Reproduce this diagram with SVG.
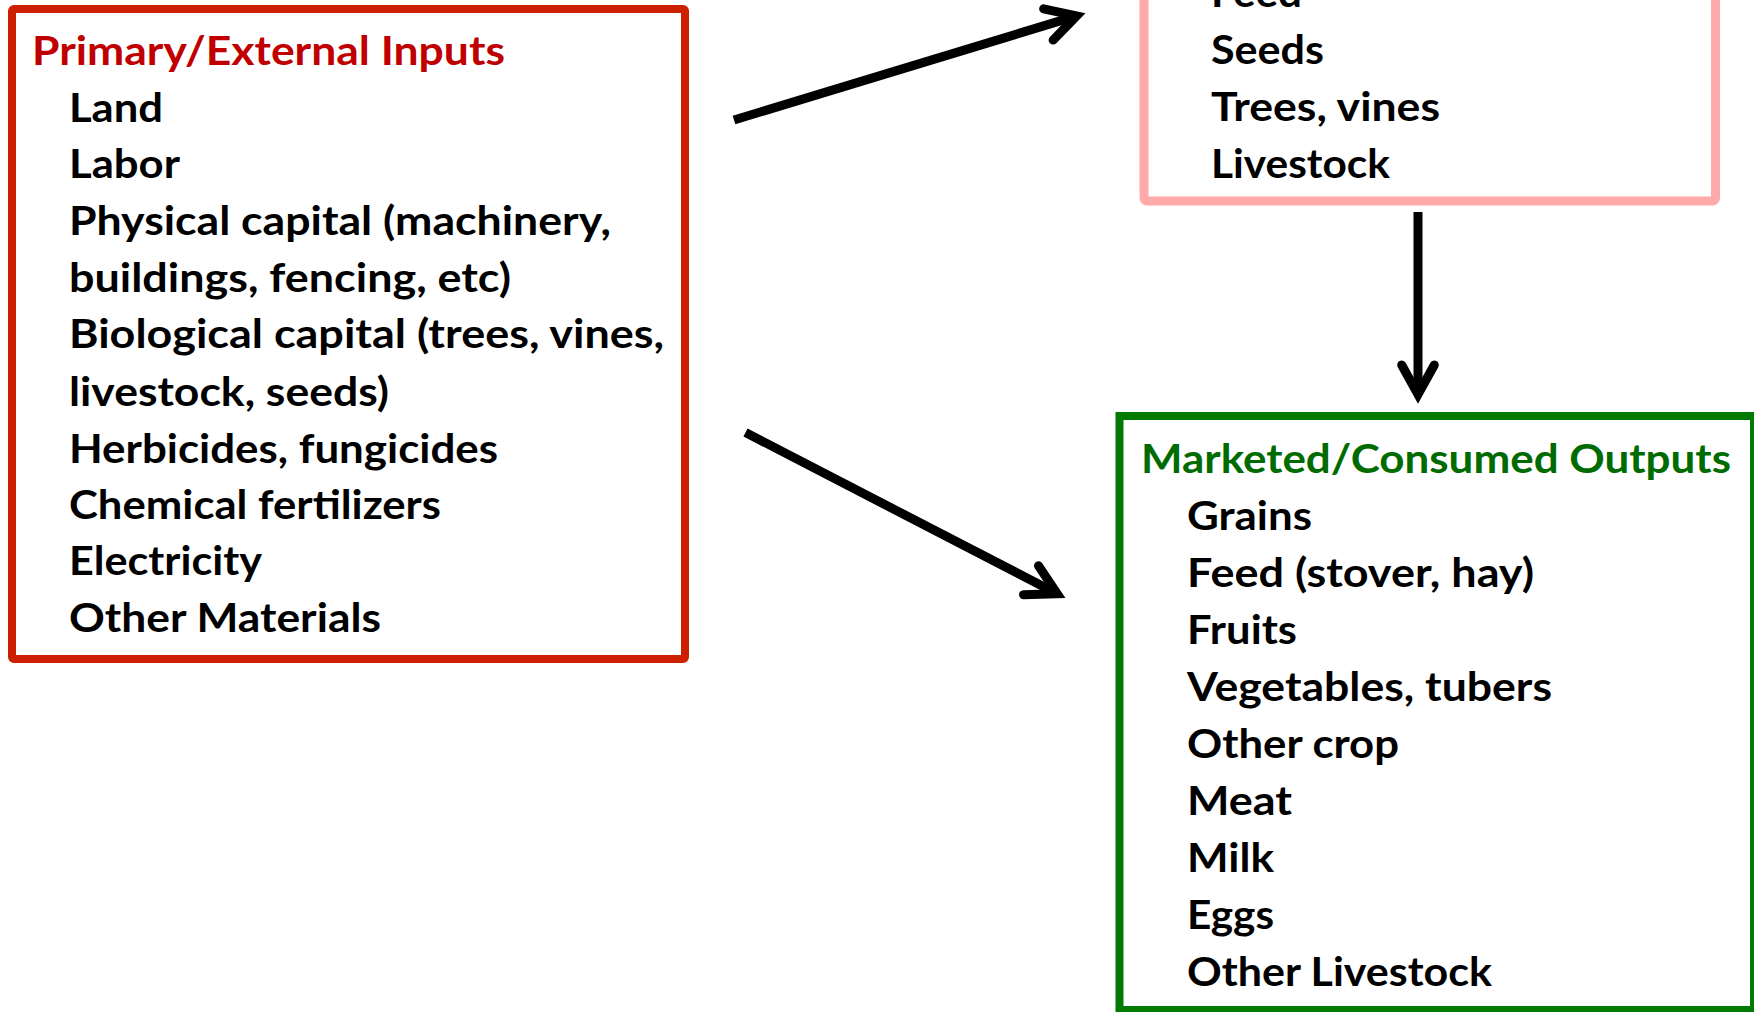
<svg xmlns="http://www.w3.org/2000/svg" width="1754" height="1012" viewBox="0 0 1754 1012">
<style>
  .t { font-family: Lato, "Open Sans", "Liberation Sans", sans-serif; font-weight: 700; font-size: 40px; fill: #000000; }
  .red-title { fill: #C00000; }
  .green-title { fill: #006B00; }
  .box { fill: #FFFFFF; }
  .red-box { stroke: #CD2000; stroke-width: 8; }
  .pink-box { stroke: #FFAAAA; stroke-width: 9; }
  .green-box { stroke: #007A00; stroke-width: 8; }
  .conn { stroke: #000000; stroke-width: 9; fill: none; stroke-linecap: butt; }
</style>
<defs>
  <marker id="chev" markerUnits="userSpaceOnUse" orient="auto" refX="0" refY="0" markerWidth="80" markerHeight="80" overflow="visible">
    <path d="M -29.5,-16.3 L 0,0 L -29.5,16.3" fill="none" stroke="#000000" stroke-width="9" stroke-linecap="round" stroke-linejoin="miter" stroke-miterlimit="10"/>
  </marker>
</defs>
<rect width="1754" height="1012" fill="#FFFFFF"/>

<g id="node-inputs">
  <rect class="box red-box" x="12" y="9" width="673" height="650" rx="2"/>
  <text class="t red-title" x="32" y="65" textLength="473" lengthAdjust="spacingAndGlyphs">Primary/External Inputs</text>
  <text class="t" x="69" y="122" textLength="94" lengthAdjust="spacingAndGlyphs">Land</text>
  <text class="t" x="69" y="178" textLength="111" lengthAdjust="spacingAndGlyphs">Labor</text>
  <text class="t" x="69" y="235" textLength="542" lengthAdjust="spacingAndGlyphs">Physical capital (machinery,</text>
  <text class="t" x="69" y="292" textLength="442" lengthAdjust="spacingAndGlyphs">buildings, fencing, etc)</text>
  <text class="t" x="69" y="348" textLength="595" lengthAdjust="spacingAndGlyphs">Biological capital (trees, vines,</text>
  <text class="t" x="69" y="406" textLength="320" lengthAdjust="spacingAndGlyphs">livestock, seeds)</text>
  <text class="t" x="69" y="463" textLength="429" lengthAdjust="spacingAndGlyphs">Herbicides, fungicides</text>
  <text class="t" x="69" y="519" textLength="372" lengthAdjust="spacingAndGlyphs">Chemical fertilizers</text>
  <text class="t" x="69" y="575" textLength="193" lengthAdjust="spacingAndGlyphs">Electricity</text>
  <text class="t" x="69" y="632" textLength="312" lengthAdjust="spacingAndGlyphs">Other Materials</text>
</g>

<g id="node-intermediate">
  <rect class="box pink-box" x="1144" y="-60" width="571.5" height="261" rx="3"/>
  <text class="t" x="1211" y="7" textLength="91" lengthAdjust="spacingAndGlyphs">Feed</text>
  <text class="t" x="1211" y="64" textLength="113" lengthAdjust="spacingAndGlyphs">Seeds</text>
  <text class="t" x="1211" y="121" textLength="229" lengthAdjust="spacingAndGlyphs">Trees, vines</text>
  <text class="t" x="1211" y="178" textLength="179" lengthAdjust="spacingAndGlyphs">Livestock</text>
</g>

<g id="node-outputs">
  <rect class="box green-box" x="1119.5" y="416" width="634.5" height="594"/>
  <text class="t green-title" x="1141" y="473" textLength="590" lengthAdjust="spacingAndGlyphs">Marketed/Consumed Outputs</text>
  <text class="t" x="1187" y="530" textLength="125" lengthAdjust="spacingAndGlyphs">Grains</text>
  <text class="t" x="1187" y="587" textLength="347" lengthAdjust="spacingAndGlyphs">Feed (stover, hay)</text>
  <text class="t" x="1187" y="644" textLength="110" lengthAdjust="spacingAndGlyphs">Fruits</text>
  <text class="t" x="1187" y="701" textLength="365" lengthAdjust="spacingAndGlyphs">Vegetables, tubers</text>
  <text class="t" x="1187" y="758" textLength="212" lengthAdjust="spacingAndGlyphs">Other crop</text>
  <text class="t" x="1187" y="815" textLength="105" lengthAdjust="spacingAndGlyphs">Meat</text>
  <text class="t" x="1187" y="872" textLength="87" lengthAdjust="spacingAndGlyphs">Milk</text>
  <text class="t" x="1187" y="929" textLength="87" lengthAdjust="spacingAndGlyphs">Eggs</text>
  <text class="t" x="1187" y="986" textLength="305" lengthAdjust="spacingAndGlyphs">Other Livestock</text>
</g>

<g id="connectors">
  <path class="conn" d="M 734,120 L 1076.6,15.9" marker-end="url(#chev)"/>
  <path class="conn" d="M 745.5,432.5 L 1057.2,593.7" marker-end="url(#chev)"/>
  <path class="conn" d="M 1418,212 L 1418,394.5" marker-end="url(#chev)"/>
</g>
</svg>
